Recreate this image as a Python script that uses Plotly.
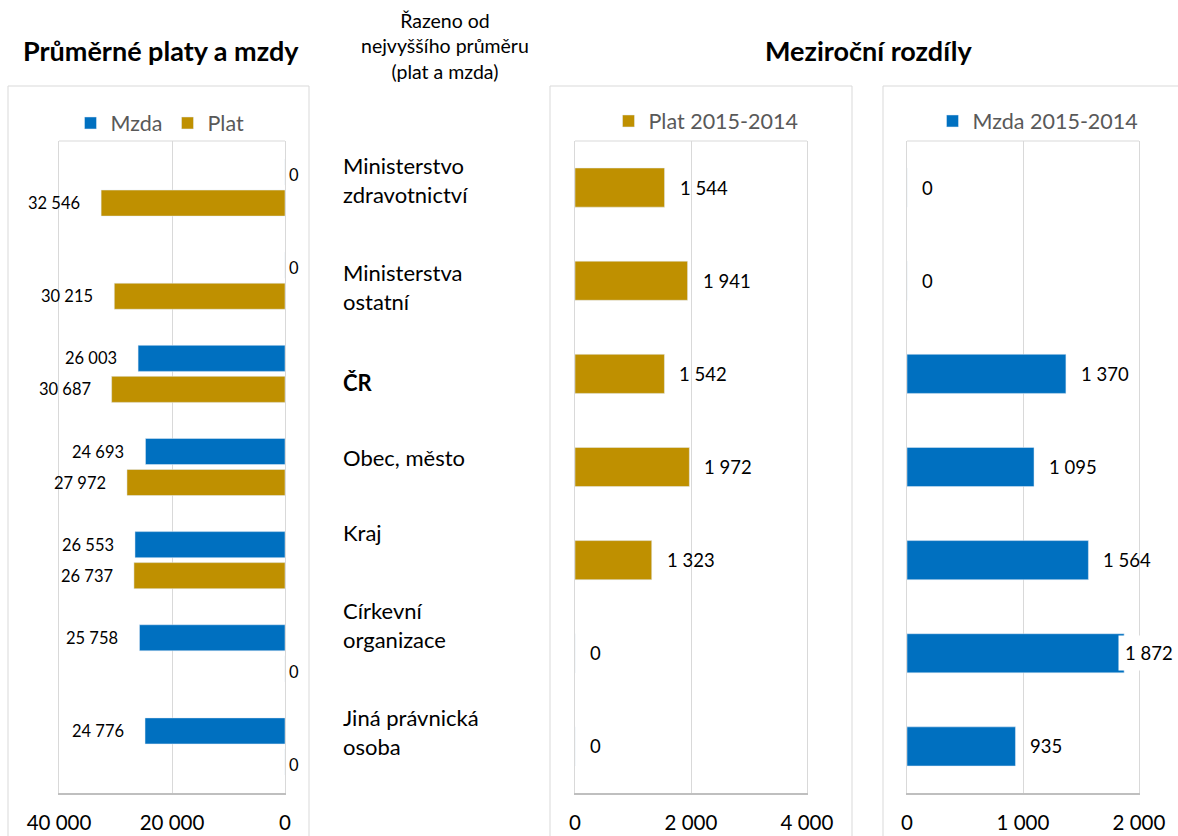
import plotly.graph_objects as go

# Data
categories = ["Ministerstvo zdravotnictví", "Ministerstva ostatní", "ČR", "Obec, město",
              "Kraj", "Církevní organizace", "Jiná právnická osoba"]
category_labels = ["Ministerstvo<br>zdravotnictví", "Ministerstva<br>ostatní", "<b>ČR</b>",
                   "Obec, město", "Kraj", "Církevní<br>organizace", "Jiná právnická<br>osoba"]
mzda = [0, 0, 26003, 24693, 26553, 25758, 24776]
plat = [32546, 30215, 30687, 27972, 26737, 0, 0]
plat_diff = [1544, 1941, 1542, 1972, 1323, 0, 0]
mzda_diff = [0, 0, 1370, 1095, 1564, 1872, 935]

left_ticks = [0, 20000, 40000]
mid_ticks = [0, 2000, 4000]
right_ticks = [0, 1000, 2000]

BLUE = "#0070C0"
GOLD = "#BF9000"
GRID = "#D9D9D9"
AXIS = "#BFBFBF"
FONT = "Lato"
W, H = 1178, 836


def px(x):
    return x / W


def py(y):
    return 1 - y / H


def fmt(v):
    return f"{v:,}".replace(",", " ")


fig = go.Figure()

# Left panel: average pay, reversed axis
fig.add_trace(go.Bar(y=categories, x=mzda, orientation="h", name="Mzda", marker_color=BLUE,
                     xaxis="x", yaxis="y", legend="legend"))
fig.add_trace(go.Bar(y=categories, x=plat, orientation="h", name="Plat", marker_color=GOLD,
                     xaxis="x", yaxis="y", legend="legend"))
# Middle panel: year-on-year change, Plat
fig.add_trace(go.Bar(y=categories, x=plat_diff, orientation="h", name="Plat 2015-2014",
                     marker_color=GOLD, xaxis="x2", yaxis="y2", legend="legend2", width=0.42))
# Right panel: year-on-year change, Mzda
fig.add_trace(go.Bar(y=categories, x=mzda_diff, orientation="h", name="Mzda 2015-2014",
                     marker_color=BLUE, xaxis="x3", yaxis="y3", legend="legend3", width=0.42))

annotations = []

# Value labels, left panel
for series, shift in ((mzda, 15.5), (plat, -15.5)):
    for cat, v in zip(categories, series):
        if v > 0:
            annotations.append(dict(x=v, y=cat, xref="x", yref="y", text=fmt(v),
                                    xanchor="right", xshift=-19, yshift=shift,
                                    showarrow=False, font=dict(size=16.5, color="#000", family=FONT)))
        else:
            annotations.append(dict(x=v, y=cat, xref="x", yref="y", text=fmt(v),
                                    xanchor="left", xshift=2, yshift=shift - 3,
                                    showarrow=False, font=dict(size=16.5, color="#000", family=FONT)))

# Value labels, middle and right panels
for series, xr, yr, xmax in ((plat_diff, "x2", "y2", 4000), (mzda_diff, "x3", "y3", 2000)):
    for cat, v in zip(categories, series):
        near_end = v / xmax > 0.9
        annotations.append(dict(x=v, y=cat, xref=xr, yref=yr, text=fmt(v),
                                xanchor="left", xshift=-6 if near_end else 13,
                                bgcolor="white" if near_end else None,
                                borderpad=6 if near_end else 1,
                                showarrow=False, font=dict(size=18.5, color="#000", family=FONT)))

# Category labels in the middle column
label_y = [180, 287, 383, 457, 532, 625, 732]
for text, yy in zip(category_labels, label_y):
    annotations.append(dict(x=px(341), y=py(yy), xref="paper", yref="paper", text=text,
                            xanchor="left", yanchor="middle", align="left", showarrow=False,
                            font=dict(size=22, color="#000", family=FONT)))

# Headings
annotations += [
    dict(x=px(161), y=py(50), xref="paper", yref="paper", text="<b>Průměrné platy a mzdy</b>",
         showarrow=False, xanchor="center", yanchor="middle",
         font=dict(size=27, color="#000", family=FONT)),
    dict(x=px(868), y=py(50), xref="paper", yref="paper", text="<b>Meziroční rozdíly</b>",
         showarrow=False, xanchor="center", yanchor="middle",
         font=dict(size=27, color="#000", family=FONT)),
    dict(x=px(445), y=py(46), xref="paper", yref="paper",
         text="Řazeno od<br>nejvyššího průměru<br>(plat a mzda)",
         showarrow=False, xanchor="center", yanchor="middle", align="center",
         font=dict(size=19.5, color="#000", family=FONT)),
]

# Chart-area frames
shapes = [
    dict(type="rect", xref="paper", yref="paper", x0=px(8), x1=px(309), y0=-0.2, y1=py(86),
         line=dict(color=GRID, width=1), layer="below"),
    dict(type="rect", xref="paper", yref="paper", x0=px(550), x1=px(852), y0=-0.2, y1=py(86),
         line=dict(color=GRID, width=1), layer="below"),
    dict(type="rect", xref="paper", yref="paper", x0=px(883), x1=1.2, y0=-0.2, y1=py(86),
         line=dict(color=GRID, width=1), layer="below"),
]
# Light top edge of each plot area
for xr, yr in (("x", "y"), ("x2", "y2"), ("x3", "y3")):
    shapes.append(dict(type="line", xref=f"{xr} domain", yref=f"{yr} domain",
                       x0=0, x1=1, y0=1, y1=1, line=dict(color=GRID, width=1)))


def xaxis(domain, ticks, rng, reverse=False):
    return dict(domain=domain, range=rng[::-1] if reverse else rng, tickvals=ticks,
                tickformat=",d", showgrid=True, gridcolor=GRID, gridwidth=1,
                showline=True, linecolor=AXIS, linewidth=1.5, mirror=False, zeroline=False,
                ticks="", ticklabelstandoff=11, automargin=False,
                tickfont=dict(size=20.5, color="#000", family=FONT), fixedrange=True)


def yaxis(domain, anchor):
    return dict(domain=domain, anchor=anchor, autorange="reversed", showticklabels=False,
                showgrid=False, showline=True, linecolor=GRID, mirror=True, ticks="",
                automargin=False, fixedrange=True)


y_dom = [py(793), py(141)]

legend_font = dict(size=21.5, color="#595959", family=FONT)

fig.update_layout(
    width=W, height=H,
    margin=dict(l=0, r=0, t=0, b=0, autoexpand=False),
    paper_bgcolor="white", plot_bgcolor="white",
    separators=", ",
    barmode="group", bargap=0.334, bargroupgap=0.16,
    xaxis=xaxis([px(59), px(285)], left_ticks, [0, 40000], reverse=True) | dict(anchor="y"),
    yaxis=yaxis(y_dom, "x"),
    xaxis2=xaxis([px(575), px(807)], mid_ticks, [0, 4000]) | dict(anchor="y2"),
    yaxis2=yaxis(y_dom, "x2"),
    xaxis3=xaxis([px(907), px(1139)], right_ticks, [0, 2000]) | dict(anchor="y3"),
    yaxis3=yaxis(y_dom, "x3"),
    legend=dict(orientation="h", x=px(160), y=py(123), xanchor="center", yanchor="middle",
                font=legend_font, itemwidth=30, bgcolor="rgba(0,0,0,0)"),
    legend2=dict(orientation="h", x=px(706), y=py(121), xanchor="center", yanchor="middle",
                 font=legend_font, itemwidth=30, bgcolor="rgba(0,0,0,0)"),
    legend3=dict(orientation="h", x=px(1038), y=py(121), xanchor="center", yanchor="middle",
                 font=legend_font, itemwidth=30, bgcolor="rgba(0,0,0,0)"),
    annotations=annotations,
    shapes=shapes,
    font=dict(family=FONT),
)

fig.write_html("out.html")
